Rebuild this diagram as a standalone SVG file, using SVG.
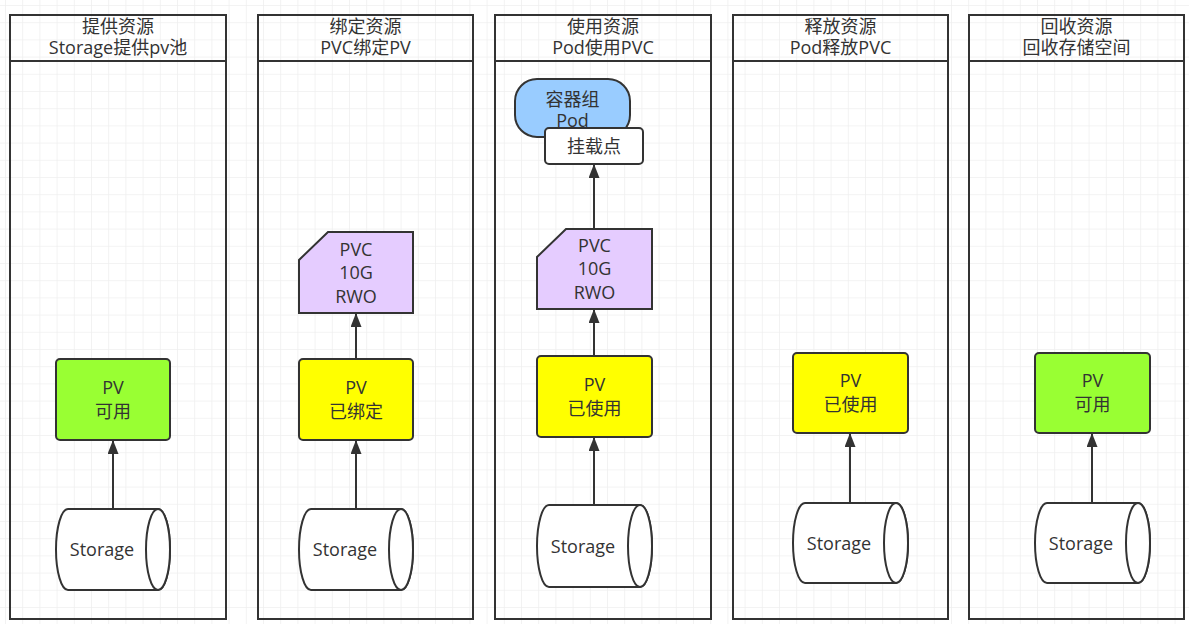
<svg xmlns="http://www.w3.org/2000/svg" width="1189" height="624" viewBox="0 0 1189 624">
<style>
text{font-family:"Open Sans","Noto Sans CJK SC",sans-serif;font-size:18px;fill:#333;text-anchor:middle}
.lane{fill:none;stroke:#333;stroke-width:2}
.sh{stroke:#333;stroke-width:2}
.pvg{fill:#99ff33}
.pvy{fill:#ffff00}
.pvc{fill:#e5ccff}
.cyl{fill:#fff;stroke:#333;stroke-width:2}
.edge{stroke:#333;stroke-width:2;fill:none;marker-end:url(#arr)}
</style>
<defs>
<pattern id="grid" x="5" y="5" width="17.2" height="17.2" patternUnits="userSpaceOnUse">
<path d="M0 0H17.2M0 0V17.2" fill="none" stroke="#efefef" stroke-width="1.5"/>
</pattern>
<marker id="arr" viewBox="0 0 14 11" refX="13" refY="5.5" markerWidth="7" markerHeight="5.5" orient="auto" markerUnits="strokeWidth">
<path d="M0 0L14 5.5L0 11Z" fill="#333"/>
</marker>
</defs>
<rect width="1189" height="624" fill="#fff"/>
<rect width="1189" height="624" fill="url(#grid)"/>

<g id="lane1">
<rect x="10" y="15" width="216" height="604" class="lane"/>
<line x1="10" y1="61" x2="226" y2="61" class="lane"/>
<text x="118" y="33">提供资源</text>
<text x="118" y="54">Storage提供pv池</text>
</g>
<g id="lane2">
<rect x="258" y="15" width="215" height="604" class="lane"/>
<line x1="258" y1="61" x2="473" y2="61" class="lane"/>
<text x="365.5" y="33">绑定资源</text>
<text x="365.5" y="54">PVC绑定PV</text>
</g>
<g id="lane3">
<rect x="495" y="15" width="216" height="604" class="lane"/>
<line x1="495" y1="61" x2="711" y2="61" class="lane"/>
<text x="603" y="33">使用资源</text>
<text x="603" y="54">Pod使用PVC</text>
</g>
<g id="lane4">
<rect x="733" y="15" width="215" height="604" class="lane"/>
<line x1="733" y1="61" x2="948" y2="61" class="lane"/>
<text x="840.5" y="33">释放资源</text>
<text x="840.5" y="54">Pod释放PVC</text>
</g>
<g id="lane5">
<rect x="969" y="15" width="215" height="604" class="lane"/>
<line x1="969" y1="61" x2="1184" y2="61" class="lane"/>
<text x="1076.5" y="33">回收资源</text>
<text x="1076.5" y="54">回收存储空间</text>
</g>

<g id="connectors">
<line x1="113" y1="509" x2="113" y2="441" class="edge"/>
<line x1="356" y1="509" x2="356" y2="441" class="edge"/>
<line x1="356" y1="359" x2="356" y2="314" class="edge"/>
<line x1="594" y1="505" x2="594" y2="438" class="edge"/>
<line x1="594" y1="356" x2="594" y2="310" class="edge"/>
<line x1="594" y1="229" x2="594" y2="165" class="edge"/>
<line x1="850" y1="503" x2="850" y2="434" class="edge"/>
<line x1="1092" y1="503" x2="1092" y2="434" class="edge"/>
</g>

<g id="pv1">
<rect x="56" y="359" width="114" height="81" rx="4" class="sh pvg"/>
<text x="113" y="394">PV</text>
<text x="113" y="418">可用</text>
</g>
<g id="storage1">
<path d="M68 509H158A12 40.5 0 0 1 158 590H68A12 40.5 0 0 1 68 509Z" class="cyl"/>
<ellipse cx="158" cy="549.5" rx="12" ry="40.5" class="cyl"/>
<text x="102" y="556">Storage</text>
</g>

<g id="pvc2">
<path d="M328 232H413V313H299V260Z" class="sh pvc"/>
<text x="356" y="256">PVC</text>
<text x="356" y="279">10G</text>
<text x="356" y="303">RWO</text>
</g>
<g id="pv2">
<rect x="299" y="359" width="114" height="81" rx="4" class="sh pvy"/>
<text x="356" y="394">PV</text>
<text x="356" y="418">已绑定</text>
</g>
<g id="storage2">
<path d="M311 509H401A12 40.5 0 0 1 401 590H311A12 40.5 0 0 1 311 509Z" class="cyl"/>
<ellipse cx="401" cy="549.5" rx="12" ry="40.5" class="cyl"/>
<text x="345" y="556">Storage</text>
</g>

<g id="pod3">
<rect x="515" y="79" width="115" height="58" rx="22" class="sh" fill="#99ccff"/>
<text x="572.5" y="106">容器组</text>
<text x="572.5" y="127">Pod</text>
</g>
<g id="mount3">
<rect x="545" y="128" width="98" height="36" rx="4" class="sh" fill="#fff"/>
<text x="594" y="153">挂载点</text>
</g>
<g id="pvc3">
<path d="M566 229H652V309H537V257Z" class="sh pvc"/>
<text x="594.5" y="252">PVC</text>
<text x="594.5" y="275">10G</text>
<text x="594.5" y="299">RWO</text>
</g>
<g id="pv3">
<rect x="537" y="356" width="115" height="81" rx="4" class="sh pvy"/>
<text x="594.5" y="391">PV</text>
<text x="594.5" y="415">已使用</text>
</g>
<g id="storage3">
<path d="M549 505H640A12 41 0 0 1 640 587H549A12 41 0 0 1 549 505Z" class="cyl"/>
<ellipse cx="640" cy="546" rx="12" ry="41" class="cyl"/>
<text x="583" y="553">Storage</text>
</g>

<g id="pv4">
<rect x="793" y="353" width="115" height="80" rx="4" class="sh pvy"/>
<text x="850.5" y="387">PV</text>
<text x="850.5" y="411">已使用</text>
</g>
<g id="storage4">
<path d="M805 503H896A12 40 0 0 1 896 583H805A12 40 0 0 1 805 503Z" class="cyl"/>
<ellipse cx="896" cy="543" rx="12" ry="40" class="cyl"/>
<text x="839" y="550">Storage</text>
</g>

<g id="pv5">
<rect x="1035" y="353" width="115" height="80" rx="4" class="sh pvg"/>
<text x="1092.5" y="387">PV</text>
<text x="1092.5" y="411">可用</text>
</g>
<g id="storage5">
<path d="M1047 503H1138A12 40 0 0 1 1138 583H1047A12 40 0 0 1 1047 503Z" class="cyl"/>
<ellipse cx="1138" cy="543" rx="12" ry="40" class="cyl"/>
<text x="1081" y="550">Storage</text>
</g>
</svg>
